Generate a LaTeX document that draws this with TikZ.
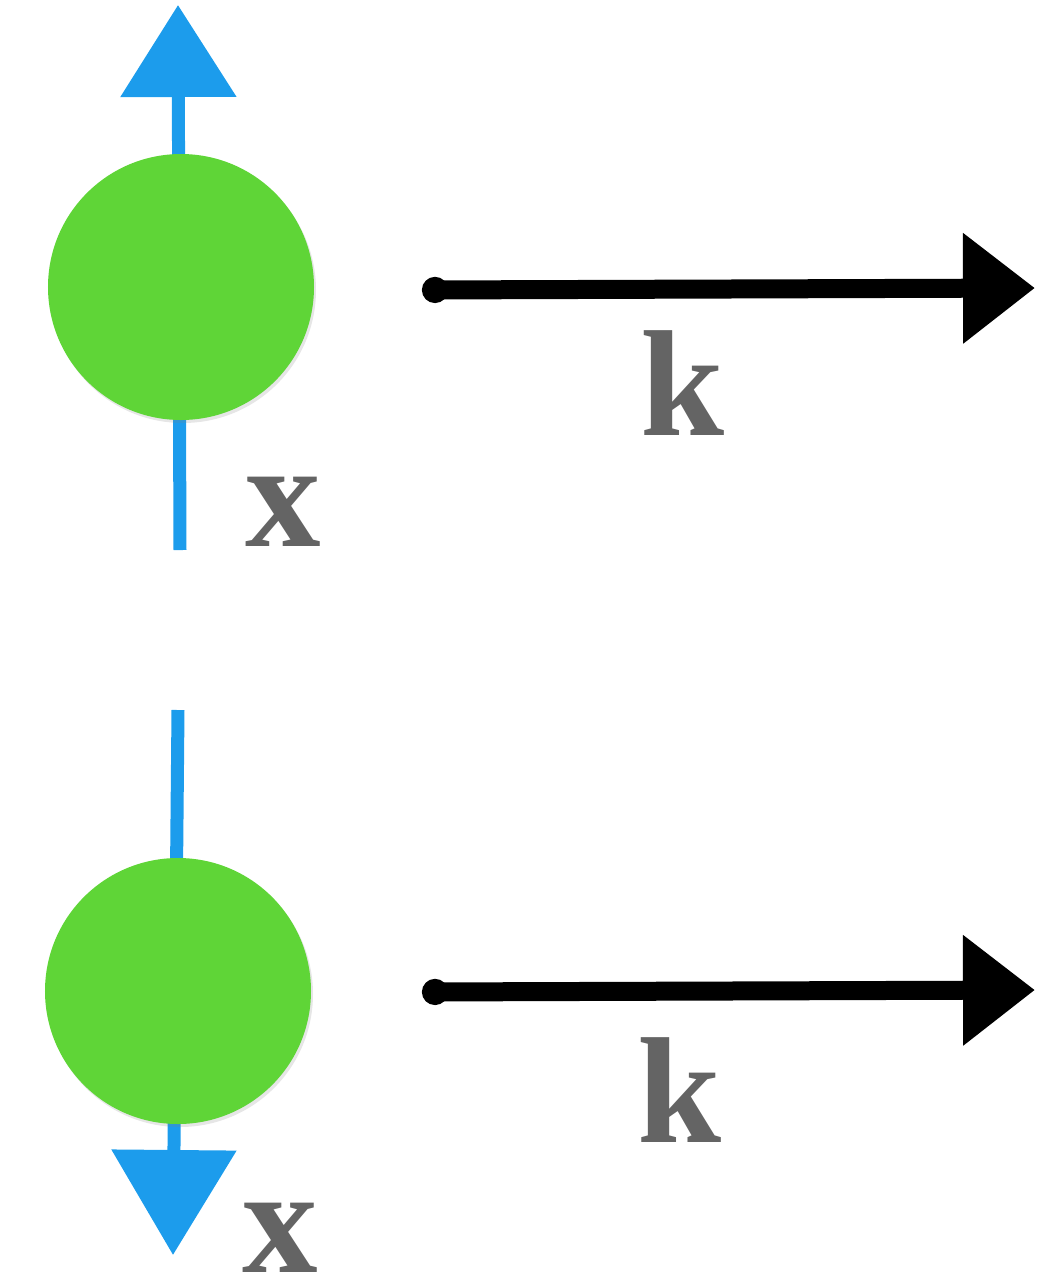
\documentclass[tikz,border=0pt]{standalone}
\usepackage{fontspec}
\setmainfont{Liberation Serif}
\usetikzlibrary{arrows.meta,shadows,positioning}

\definecolor{ballgreen}{RGB}{95,213,55}
\definecolor{spinblue}{RGB}{28,156,236}
\definecolor{labelgray}{RGB}{100,100,100}

\begin{document}
\begin{tikzpicture}[thick]
    \tikzset{ball/.style = {circle, minimum size=2.66cm, inner sep=0pt,
        fill = ballgreen,
        drop shadow = {shadow xshift=0.02cm, shadow yshift=-0.03cm, opacity=0.2}},
      spin/.style = {spinblue, line width=0.13cm},
      wave/.style = {black, line width=0.19cm, line cap=round,
        {Circle[length=0.26cm]}-{Triangle[length=0.72cm,width=1.06cm]}},
      lbl/.style = {text=labelgray, inner sep=0pt,
        font=\fontsize{43}{46}\selectfont\bfseries}}
    \useasboundingbox (0,0) rectangle (10.45,-12.81);

    % upper particle, spin up
    \coordinate (tailA) at (1.80,-5.50);
    \coordinate (tipA) at (1.78,-0.05);
    \draw[spin,-{Triangle[length=0.92cm,width=1.13cm]}] (tailA) -- (tipA);
    \node[ball] (A) at (1.81,-2.87) {};
    \node[lbl] (xA) at (2.83,-5.12) {x};

    \coordinate (startA) at (4.22,-2.90);
    \coordinate (endA) at (10.35,-2.88);
    \draw[wave] (startA) -- (endA);
    \node[lbl] (kA) at (6.83,-3.83) {k};

    % lower particle, spin down
    \coordinate (tailB) at (1.78,-7.10);
    \coordinate (tipB) at (1.73,-12.55);
    \draw[spin,-{Triangle[length=1.05cm,width=1.22cm]}] (tailB) -- (tipB);
    \node[ball] (B) at (1.78,-9.91) {};
    \node[lbl] (xB) at (2.80,-12.38) {x};

    \coordinate (startB) at (4.22,-9.92);
    \coordinate (endB) at (10.35,-9.90);
    \draw[wave] (startB) -- (endB);
    \node[lbl] (kB) at (6.80,-10.90) {k};
\end{tikzpicture}
\end{document}
